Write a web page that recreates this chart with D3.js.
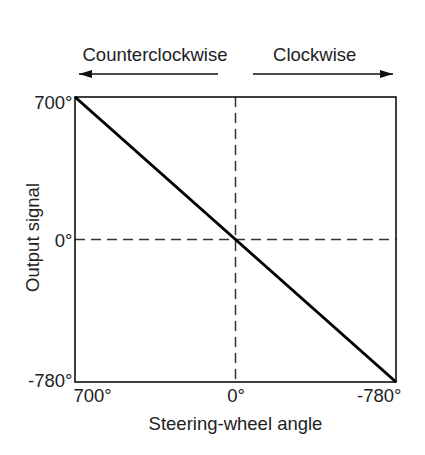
<!DOCTYPE html>
<html><head><meta charset="utf-8">
<script src="https://cdn.jsdelivr.net/npm/d3@7"></script>
<style>body{margin:0;background:#fff}svg{display:block}text{font-family:"Liberation Sans",Arial,sans-serif;fill:#222}</style>
</head><body><svg id="c" width="425" height="455"></svg>
<script>
const steeringAngle = [700, 0, -780];
const outputSignal = [700, 0, -780];
const xTicks = [700, 0, -780];
const yTicks = [700, 0, -780];
const xTitle = "Steering-wheel angle";
const yTitle = "Output signal";
const dirLabels = ["Counterclockwise", "Clockwise"];

const svg = d3.select("#c");
const L = 75, R = 396, T = 97, B = 382;
const x = d3.scaleLinear().domain([700, 0, -780]).range([L, (L + R) / 2, R]);
const y = d3.scaleLinear().domain([-780, 0, 700]).range([B, (T + B) / 2, T]);
const fs = 18.5;

// dashed zero lines
svg.append("line").attr("x1", x(0)).attr("x2", x(0)).attr("y1", T).attr("y2", B)
  .attr("stroke", "#333").attr("stroke-width", 1.5).attr("stroke-dasharray", "10,6");
svg.append("line").attr("x1", L).attr("x2", R).attr("y1", y(0)).attr("y2", y(0))
  .attr("stroke", "#333").attr("stroke-width", 1.5).attr("stroke-dasharray", "10,6");

// box
svg.append("rect").attr("x", L).attr("y", T).attr("width", R - L).attr("height", B - T)
  .attr("fill", "none").attr("stroke", "#000").attr("stroke-width", 1.5);

// data line
const pts = steeringAngle.map((d, i) => [d, outputSignal[i]]);
svg.append("path").datum(pts)
  .attr("d", d3.line().x(d => x(d[0])).y(d => y(d[1])))
  .attr("fill", "none").attr("stroke", "#000").attr("stroke-width", 3);

// x axis
const xa = svg.append("g").attr("transform", `translate(0,${B})`)
  .call(d3.axisBottom(x).tickValues(xTicks).tickFormat(d => d + "°").tickSize(0).tickPadding(0));
xa.select(".domain").remove();
xa.selectAll("text").attr("font-size", fs).attr("dy", null).attr("y", 20)
  .attr("text-anchor", (d, i) => i === 0 ? "start" : i === xTicks.length - 1 ? "end" : "middle")
  .attr("dx", (d, i) => i === 0 ? -2 : i === xTicks.length - 1 ? 5 : 0);

// y axis
const ya = svg.append("g").attr("transform", `translate(${L},0)`)
  .call(d3.axisLeft(y).tickValues(yTicks).tickFormat(d => d + "°").tickSize(0).tickPadding(2.5));
ya.select(".domain").remove();
ya.selectAll("text").attr("font-size", fs)
  .attr("dy", (d, i) => i === 0 ? "0.62em" : i === yTicks.length - 1 ? "0.24em" : "0.39em")
  .attr("fill", "#222");

// titles
svg.append("text").attr("x", (L + R) / 2).attr("y", 429.5).attr("text-anchor", "middle")
  .attr("font-size", fs).text(xTitle);
svg.append("text").attr("transform", `translate(39,${(T + B) / 2 - 2}) rotate(-90)`)
  .attr("text-anchor", "middle").attr("font-size", fs).text(yTitle);

// direction labels & arrows
svg.append("text").attr("x", 155).attr("y", 60.5).attr("text-anchor", "middle").attr("font-size", fs).text(dirLabels[0]);
svg.append("text").attr("x", 314.7).attr("y", 60.5).attr("text-anchor", "middle").attr("font-size", fs).text(dirLabels[1]);

const defs = svg.append("defs");
defs.append("marker").attr("id", "ah").attr("viewBox", "0 0 13 8").attr("refX", 13).attr("refY", 4)
  .attr("markerWidth", 13).attr("markerHeight", 8).attr("markerUnits", "userSpaceOnUse").attr("orient", "auto")
  .append("path").attr("d", "M0,0L13,4L0,8Z").attr("fill", "#111");
const ay = 74;
svg.append("line").attr("x1", 218).attr("x2", 79).attr("y1", ay).attr("y2", ay)
  .attr("stroke", "#111").attr("stroke-width", 1.4).attr("marker-end", "url(#ah)");
svg.append("line").attr("x1", 253).attr("x2", 393).attr("y1", ay).attr("y2", ay)
  .attr("stroke", "#111").attr("stroke-width", 1.4).attr("marker-end", "url(#ah)");
</script></body></html>
